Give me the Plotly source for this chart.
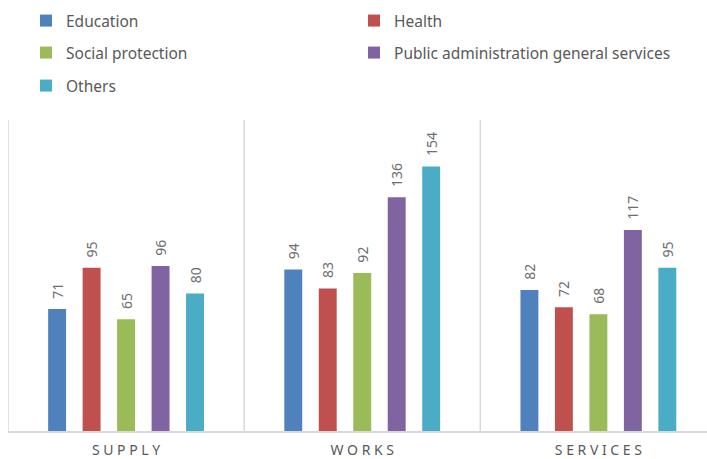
import plotly.graph_objects as go

categories = ["SUPPLY", "WORKS", "SERVICES"]
tick_labels = ["S U P P L Y", "W O R K S", "S E R V I C E S"]

series_names = [
    "Education",
    "Health",
    "Social protection",
    "Public administration general services",
    "Others",
]
education = [71, 94, 82]
health = [95, 83, 72]
social_protection = [65, 92, 68]
public_admin = [96, 136, 117]
others = [80, 154, 95]

series_values = [education, health, social_protection, public_admin, others]
colors = ["#4F81BD", "#C0504D", "#9BBB59", "#8064A2", "#4BACC6"]
legend_ids = ["legend", "legend", "legend2", "legend2", "legend3"]

gray = "#6f6f6f"
font_family = "Noto Sans"

fig = go.Figure()
for name, vals, col, lg in zip(series_names, series_values, colors, legend_ids):
    fig.add_trace(
        go.Bar(
            x=categories,
            y=vals,
            name=name,
            marker=dict(color=col, line=dict(width=0)),
            texttemplate="\u00a0\u00a0%{y}",
            textposition="outside",
            textangle=-90,
            constraintext="none",
            textfont=dict(size=14, color=gray, family=font_family),
            cliponaxis=False,
            legend=lg,
        )
    )

# category separators
for xb in [-0.5, 0.5, 1.5]:
    fig.add_shape(
        type="line", xref="x", yref="paper", x0=xb, x1=xb, y0=0, y1=1,
        line=dict(color="#d9d9d9", width=1.5), layer="below",
    )

legend_common = dict(
    orientation="h",
    xref="container",
    yref="container",
    x=26 / 707,
    xanchor="left",
    yanchor="middle",
    entrywidth=283,
    entrywidthmode="pixels",
    font=dict(size=15.5, color="#595959", family=font_family),
    bgcolor="rgba(0,0,0,0)",
    itemwidth=30,
)

fig.update_layout(
    width=707,
    height=459,
    margin=dict(l=8, r=0, t=120, b=25),
    paper_bgcolor="white",
    plot_bgcolor="white",
    barmode="group",
    bargap=0.27,
    bargroupgap=0.48,
    showlegend=True,
    legend=dict(legend_common, y=1 - 21 / 459),
    legend2=dict(legend_common, y=1 - 53 / 459),
    legend3=dict(legend_common, y=1 - 86 / 459),
    xaxis=dict(
        type="category",
        range=[-0.5, 2.46],
        tickvals=categories,
        ticktext=tick_labels,
        tickfont=dict(size=14, color="#595959", family=font_family),
        ticklabelstandoff=5,
        showgrid=False,
        showline=True,
        linecolor="#d9d9d9",
        linewidth=1.5,
        ticks="",
    ),
    yaxis=dict(
        range=[0, 181],
        visible=False,
        showgrid=False,
        zeroline=False,
    ),
)

fig.write_html("out.html")
